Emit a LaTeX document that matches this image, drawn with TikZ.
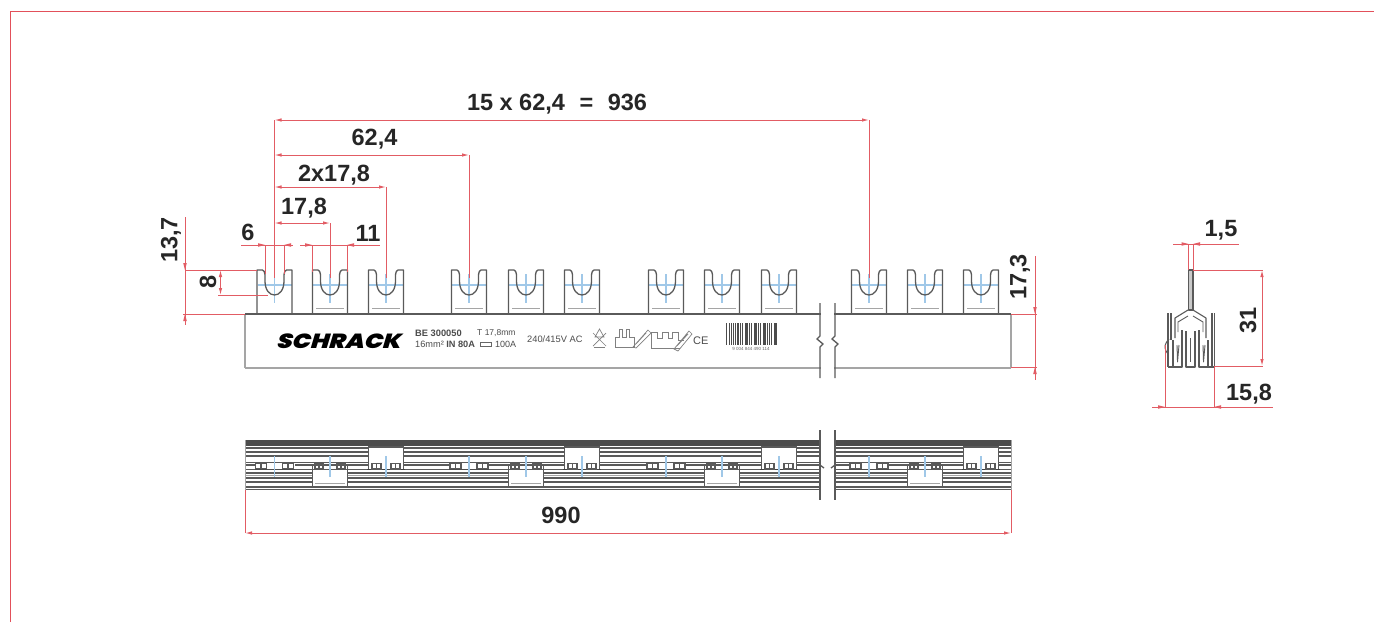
\documentclass[tikz,border=0pt]{standalone}
\usepackage{fontspec}
\setmainfont{Liberation Sans}
\newfontfamily\schrackfont[FakeSlant=0.3,FakeStretch=1.2]{Poppins Black}
\usetikzlibrary{arrows.meta}
\definecolor{dimred}{RGB}{226,92,100}
\definecolor{framered}{RGB}{226,80,90}
\definecolor{partgray}{RGB}{90,90,90}
\definecolor{lightgray2}{RGB}{165,165,165}
\definecolor{cblue}{RGB}{160,200,232}
\tikzset{
  dim/.style={draw=dimred,line width=1pt},
  dimarrow/.style={dim,{Latex[length=7pt,width=3.5pt]}-{Latex[length=7pt,width=3.5pt]}},
  ext/.style={draw=dimred,line width=1pt},
  part/.style={draw=partgray,line width=1.3pt},
  thin part/.style={draw=partgray,line width=.9pt},
  dlabel/.style={font=\bfseries\fontsize{23.5}{24}\selectfont,text=black!85,inner sep=0pt},
  small/.style={font=\fontsize{9}{9}\selectfont,text=black!70,inner sep=0pt,anchor=west},
  centre/.style={draw=cblue,line width=1.2pt},
}
\newcommand{\fork}[1]{%
  \begin{scope}[shift={(#1,0)}]
    \draw[centre] (-17,285) -- (17,285);
    \draw[centre] (0,274) -- (0,303);
    \draw[part,line join=round] (-17.5,314) -- (-17.5,270) -- (-12,270) .. controls (-9,271) and (-9.5,276) .. (-9.5,281)
      .. controls (-9.5,290) and (-5,295) .. (0,295) .. controls (5,295) and (9.5,290) .. (9.5,281)
      .. controls (9.5,276) and (9,271) .. (12,270) -- (17.5,270) -- (17.5,314);
  \end{scope}}
\newcommand{\teeth}[3]{% centre, inner offset, outer offset
  \draw[draw=partgray,line width=1.1pt] (#1-#3,463.5) rectangle (#1-#2,469) (#1+#2,463.5) rectangle (#1+#3,469);
  \draw[draw=partgray,line width=1.1pt] (#1-#3/2-#2/2,463.5) -- (#1-#3/2-#2/2,469) (#1+#3/2+#2/2,463.5) -- (#1+#3/2+#2/2,469);}
\newcommand{\topslot}[1]{%
  \fill[white] (#1-17.5,447) rectangle (#1+17.5,469);
  \draw[part,line width=1.6pt] (#1-17.5,469) -- (#1-17.5,447) -- (#1+17.5,447) -- (#1+17.5,469);
  \draw[draw=black!75,line width=1.6pt] (#1-19,469.5) -- (#1+19,469.5);
  \teeth{#1}{5}{14}
  \draw[centre] (#1,456) -- (#1,477);}
\newcommand{\botslot}[1]{%
  \fill[white] (#1-17.5,469.5) rectangle (#1+17.5,487);
  \draw[part,line width=1.6pt] (#1-17.5,464) -- (#1-17.5,487) -- (#1+17.5,487) -- (#1+17.5,464);
  \teeth{#1}{7}{15}
  \draw[draw=lightgray2,line width=.9pt] (#1-15,483) -- (#1+15,483);
  \draw[centre] (#1,456) -- (#1,477);}
\newcommand{\plainslot}[1]{%
  \fill[white] (#1-20,463) rectangle (#1+20,469);
  \teeth{#1}{8}{19}
  \draw[draw=black!70,line width=1.4pt] (#1-20,469.5) -- (#1+20,469.5);
  \draw[centre] (#1,456) -- (#1,477);}
\begin{document}
\begin{tikzpicture}[x=1pt,y=-1pt]
\useasboundingbox (0,0) rectangle (1374,622);
\fill[white] (0,0) rectangle (1374,622);
% frame
\draw[draw=framered,line width=1pt] (10,622) -- (10,11) -- (1374,11);

% forks
\foreach \c in {274.5,330,386,469,526,582,666,722,779,869,925,981}{\fork{\c}}
\foreach \c in {330,386,469,526,582,666,722,779,869,925,981}{\draw[draw=lightgray2,line width=.8pt] (\c-14,308) -- (\c+14,308);}

% front body
\draw[draw=lightgray2,line width=1.4pt] (245,314) -- (245,368);
\draw[draw=lightgray2,line width=2.4pt] (245,368) -- (1011,368);
\draw[draw=lightgray2,line width=1.4pt] (1011,314) -- (1011,368);
\draw[part,line width=1.4pt] (245,314) -- (1011,314);
% break
\fill[white] (821,300) rectangle (834,380);
\draw[part] (820,303) -- (820,336) -- (817,339) -- (823,344) -- (820,347) -- (820,378);
\draw[part] (835,303) -- (835,336) -- (832,339) -- (838,344) -- (835,347) -- (835,378);

% body texts
\node[font=\schrackfont\fontsize{20.4}{21}\selectfont,text=black,inner sep=0pt] (brand) at (338,341) {SCHRACK};
\node[small,font=\bfseries\fontsize{9.3}{9}\selectfont] (t1) at (415,333) {BE 300050};
\node[small,font=\fontsize{8.5}{9}\selectfont] (t2) at (477,333) {T 17,8mm};
\node[small,font=\fontsize{9.2}{9}\selectfont] (t3) at (415,344.5) {16mm² \textbf{IN 80A}};
\draw[draw=black!60,line width=.8pt] (480.5,342.5) rectangle (491,346.5);
\node[small] (t4) at (495,344.5) {100A};
\node[small,font=\fontsize{9.3}{9}\selectfont] (t5) at (527,339) {240/415V AC};
\node[small,font=\fontsize{11}{11}\selectfont] (ce) at (693,341) {CE};
% symbols
\begin{scope}[draw=black!50,line width=.7pt]
  \draw (593,333) -- (606,346) (606,333) -- (593,346);
  \draw (594,347.5) -- (605,347.5);
  \draw (599.5,329) -- (595,337) -- (604,337) -- cycle;
  \draw (615,347) -- (615,337) -- (619,337) -- (619,329) -- (622,329) -- (622,337) -- (626,337) -- (626,329) -- (629,329) -- (629,337) -- (634,337) -- (634,347) -- cycle;
  \draw (633,347) -- (648,330) -- (651,333) -- (636,348) -- cycle (636,344) -- (646,333);
  \draw (651,348) -- (651,332) -- (657,332) -- (657,338) -- (662,338) -- (662,332) -- (668,332) -- (668,338) -- (672,338) -- (672,332) -- (678,332) -- (678,340) -- (684,340);
  \draw (651,348) -- (680,348);
  \draw (674,349) -- (689,331) -- (692,334) -- (678,351) -- cycle (677,346) -- (688,334);
\end{scope}
% barcode
\foreach \bx/\bw in {726/1,728.5/.9,730.5/1.5,733/.9,735/.9,737/1.8,740/.9,742/1.2,744.5/.9,746/1.6,749/.9,751/1.2,753.5/.9,755/1.5,758/.9,760/1.3,762.5/.9,764/1.5,767/.9,769/.9,771/1.2,773.5/.9,775/1.6}{
  \fill[black!70] (\bx,323) rectangle (\bx+\bw,345);}
\node[small,font=\fontsize{4.5}{5}\selectfont,text=black!60,anchor=center] (bc) at (751,348.5) {9 004 844 490 114};

% bottom view
\fill[partgray!85!black] (245,440) rectangle (1011,446);
\foreach \ly/\lw in {448/1.3,452/1.5,456/1.5,462.5/1.4,465/1.2,469.5/1.6,473/1.4,478/1.5,482/1.5,487/1.7,489.5/1.2}{
  \draw[draw=partgray,line width=\lw pt] (245,\ly) -- (1011,\ly);}
\draw[draw=lightgray2,line width=.9pt] (245,475.5) -- (1011,475.5);
\foreach \c in {274.5,469,666,869}{\plainslot{\c}}
\foreach \c in {386,582,779,981}{\topslot{\c}}
\foreach \c in {330,526,722,925}{\botslot{\c}}
\draw[draw=lightgray2,line width=1pt] (245,440) -- (245,490) (1011,440) -- (1011,490);
% break lower
\fill[white] (821,430) rectangle (834,500);
\draw[part] (820,430) -- (820,500);
\draw[part] (835,430) -- (835,500);
\draw[part] (820,465) -- (824,468) (835,465) -- (831,468);

% side view
\begin{scope}[line join=round]
  \draw[part,line width=1.1pt,fill=lightgray2!60] (1188.5,270) rectangle (1193,310);
  \draw[part,line width=1.1pt] (1188,310) -- (1175,318) -- (1175,338);
  \draw[part,line width=1.1pt] (1193,310) -- (1206,318) -- (1206,338);
  \draw[thin part] (1188,316) -- (1178,322) -- (1178,332);
  \draw[thin part] (1193,316) -- (1203,322) -- (1203,332);
  \draw[part,line width=1.6pt] (1168,313) -- (1168,367) (1171,313) -- (1171,340);
  \draw[part,line width=1.6pt] (1212,313) -- (1212,367) (1214.5,313) -- (1214.5,367);
  \draw[draw=partgray,line width=1pt] (1169,339) .. controls (1165,343) and (1164,347) .. (1166,351) -- (1168,354);
  \draw[part] (1173,340) -- (1173,367) -- (1182,367) -- (1182,330);
  \draw[part] (1186,331) -- (1186,367) -- (1195,367) -- (1195,331);
  \draw[part] (1199,330) -- (1199,367) -- (1208,367) -- (1208,340);
  \draw[thin part] (1177,345) -- (1177.5,362) -- (1179,345);
  \draw[thin part] (1190.5,338) -- (1190.5,362);
  \draw[thin part] (1203,345) -- (1203.5,362) -- (1205,345);
  \draw[part] (1168,367) -- (1182,367) (1199,367) -- (1214,367);
\end{scope}

% dimension anchors
\foreach \n/\x/\y in {a/274.5/120,b/869/120,c/274.5/155,d/469/155,e/274.5/187,f/386/187,g/274.5/223,h/330/223}{\coordinate (\n) at (\x,\y);}
\coordinate (aend) at (274.5,278);
\coordinate (bend) at (869,278);
\coordinate (dend) at (469,278);
\coordinate (fend) at (386,278);
\coordinate (hend) at (330,278);
\draw[ext] (a) -- (aend);
\draw[ext] (b) -- (bend);
\draw[ext] (d) -- (dend);
\draw[ext] (f) -- (fend);
\draw[ext] (h) -- (hend);
\draw[dimarrow] (a) -- (b);
\draw[dimarrow] (c) -- (d);
\draw[dimarrow] (e) -- (f);
\draw[dimarrow] (g) -- (h);
\node[dlabel] (l15) at (557,104) {15 x 62,4\hspace{8pt} = \hspace{8pt}936};
\node[dlabel] (l62) at (374.5,139) {62,4};
\node[dlabel] (l2x) at (334,175) {2x17,8};
\node[dlabel] (l17) at (304,208) {17,8};
\node[dlabel] (l6) at (248,232) {6};
\node[dlabel] (l11) at (368,233) {11};
% 6 and 11
\draw[ext] (241,245) -- (293,245) (300,245) -- (380,245);
\draw[ext] (265,245) -- (265,274) (284,245) -- (284,274);
\draw[ext] (312,245) -- (312,272) (347,245) -- (347,272);
\fill[dimred] (265,245) -- (258,243.2) -- (258,246.8) -- cycle;
\fill[dimred] (284,245) -- (291,243.2) -- (291,246.8) -- cycle;
\fill[dimred] (312,245) -- (305,243.2) -- (305,246.8) -- cycle;
\fill[dimred] (347,245) -- (354,243.2) -- (354,246.8) -- cycle;
% 13,7 and 8
\draw[ext] (185,217) -- (185,325);
\draw[ext] (185,270) -- (257,270);
\draw[ext] (183,314) -- (245,314);
\fill[dimred] (185,270) -- (183.2,263) -- (186.8,263) -- cycle;
\fill[dimred] (185,314) -- (183.2,321) -- (186.8,321) -- cycle;
\node[dlabel,rotate=90] (l137) at (171,240) {13,7};
\coordinate (q1) at (220.5,270);
\coordinate (q2) at (220.5,295);
\draw[dimarrow] (q1) -- (q2);
\draw[ext] (218,295) -- (268,295);
\node[dlabel,rotate=90] (l8) at (208,282) {8};
% 17,3
\draw[ext] (1035,256) -- (1035,380);
\draw[ext] (1011,314) -- (1037,314) (1011,367) -- (1037,367);
\fill[dimred] (1035,314) -- (1033.2,307) -- (1036.8,307) -- cycle;
\fill[dimred] (1035,367) -- (1033.2,374) -- (1036.8,374) -- cycle;
\node[dlabel,rotate=90] (l173) at (1020,277) {17,3};
% 990
\coordinate (r1) at (245,533);
\coordinate (r2) at (1011,533);
\draw[ext] (245,490) -- (r1) (1011,490) -- (r2);
\draw[dimarrow] (r1) -- (r2);
\node[dlabel] (l990) at (561,515) {990};
% side dims
\draw[ext] (1173,244) -- (1239,244);
\draw[ext] (1188.5,244) -- (1188.5,270) (1193,244) -- (1193,270);
\fill[dimred] (1188.5,244) -- (1181.5,242.2) -- (1181.5,245.8) -- cycle;
\fill[dimred] (1193,244) -- (1200,242.2) -- (1200,245.8) -- cycle;
\node[dlabel] (l15b) at (1221,230) {1,5};
\coordinate (s1) at (1262,270);
\coordinate (s2) at (1262,366);
\draw[ext] (1193,270) -- (1263,270) (1214,366) -- (1263,366);
\draw[dimarrow] (s1) -- (s2);
\node[dlabel,rotate=90] (l31) at (1248,320) {31};
\draw[ext] (1152,407) -- (1273,407);
\draw[ext] (1165,345) -- (1165,407) (1214,367) -- (1214,407);
\fill[dimred] (1165,407) -- (1158,405.2) -- (1158,408.8) -- cycle;
\fill[dimred] (1214,407) -- (1221,405.2) -- (1221,408.8) -- cycle;
\node[dlabel] (l158) at (1249,394) {15,8};
\end{tikzpicture}
\end{document}
